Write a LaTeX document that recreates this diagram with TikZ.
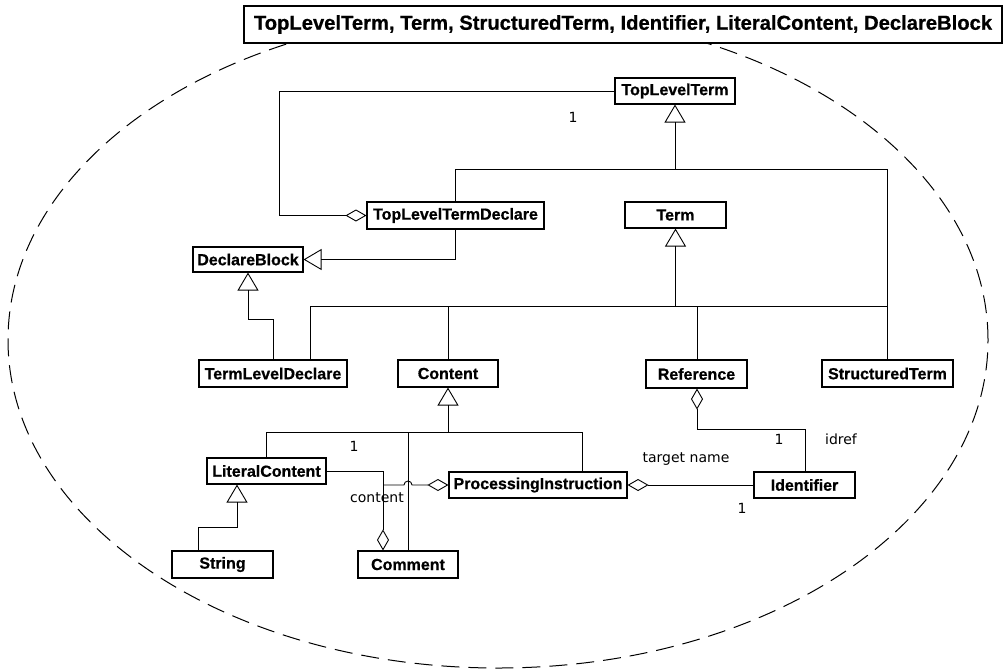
\documentclass[tikz,border=0pt]{standalone}
\usepackage{fontspec}
\setmainfont{Liberation Sans}
\newfontfamily\heavyfont{Liberation Sans}[BoldFeatures={FakeBold=0.7}]
\newfontfamily\labfont{DejaVu Sans}
\usetikzlibrary{arrows.meta}
\begin{document}
\begin{tikzpicture}[x=1pt,y=-1pt,
  cls/.style={draw, line width=1.1pt, fill=white, inner sep=0pt, minimum height=26pt,
              font=\heavyfont\fontsize{16}{16}\selectfont\bfseries},
  ln/.style={line width=0.9pt},
  gen/.style={ln, -{Triangle[open, length=18pt, width=21pt, line width=0.9pt]}},
  agg/.style={ln, -{Diamond[open, length=21pt, width=12pt, line width=0.9pt]}},
  lab/.style={font=\labfont\fontsize{14}{14}\selectfont, inner sep=0pt, anchor=base},
]
\useasboundingbox (0,0) rectangle (1003,670);
% package boundary
\draw[line width=1pt, dash pattern=on 18pt off 9pt] (498,340) ellipse [x radius=490pt, y radius=328pt];
\node[draw, line width=1.1pt, fill=white, minimum width=758pt, minimum height=37pt, inner sep=0pt,
      font=\heavyfont\fontsize{20.2}{21}\selectfont\bfseries] (title) at (623,24.5)
      {TopLevelTerm, Term, StructuredTerm, Identifier, LiteralContent, DeclareBlock};

% classes
\node[cls, minimum width=120pt] (tlt) at (675,91) {TopLevelTerm};
\node[cls, minimum width=177pt, minimum height=27pt] (tltd) at (455.5,215.5) {TopLevelTermDeclare};
\node[cls, minimum width=101pt] (term) at (675.5,215) {Term};
\node[cls, minimum width=110pt, minimum height=25pt] (db) at (248,259.5) {DeclareBlock};
\node[cls, minimum width=148pt, minimum height=27pt] (tld) at (273,373.5) {TermLevelDeclare};
\node[cls, minimum width=100pt, minimum height=27pt] (content) at (448,373.5) {Content};
\node[cls, minimum width=101pt, minimum height=28pt] (ref) at (696.5,374) {Reference};
\node[cls, minimum width=131pt, minimum height=27pt] (st) at (887.5,373.5) {StructuredTerm};
\node[cls, minimum width=119pt] (lc) at (266.5,471) {LiteralContent};
\node[cls, minimum width=178pt] (pi) at (538,485) {ProcessingInstruction};
\node[cls, minimum width=101pt] (id) at (804.5,485) {Identifier};
\node[cls, minimum width=101pt, minimum height=27pt] (string) at (222.5,564.5) {String};
\node[cls, minimum width=100pt, minimum height=27pt] (comment) at (408,564.5) {Comment};

% helper coordinates
\coordinate (j1) at (675,169);
\coordinate (j2) at (675.5,306);
\coordinate (j3) at (448,432);
\coordinate (b1) at (248,319);
\coordinate (b2) at (279,215.5);
\coordinate (b3) at (237,527);
\coordinate (b4) at (697,429);
\coordinate (tldn) at ([xshift=37pt]tld.north);
\coordinate (pin) at ([xshift=44pt]pi.north);
\coordinate (lcb) at ([xshift=-29.5pt]lc.south);
\coordinate (sn) at ([xshift=-24.5pt]string.north);
\coordinate (cn) at ([xshift=-25pt]comment.north);
\coordinate (idn) at ([xshift=0.5pt]id.north);
\coordinate (refs) at ([xshift=0.5pt]ref.south);
\coordinate (refn) at ([xshift=0.5pt]ref.north);

% generalizations
\draw[gen] (tltd.north) |- (j1) -- (tlt.south);
\draw[ln] (st.north) |- (j1);
\draw[gen] (j2) -- (term.south);
\draw[ln] (tldn) |- (st.north |- j2);
\draw[ln] (content.north) -- (content.north |- j2);
\draw[ln] (refn) -- (refn |- j2);
\draw[gen] (tldn -| tld.north) |- (b1) -- (db.south);
\draw[gen] (tltd.south) |- (db.east);
\draw[gen] (j3) -- (content.south);
\draw[ln] (lc.north) |- (pin |- j3) -- (pin);
\draw[ln] (comment.north) -- (comment.north |- j3);
\draw[gen] (sn) |- (b3) -- (lcb);

% aggregations
\draw[agg] (tlt.west) -| (b2) -- (tltd.west);
\draw[agg] (lc.east) -| (cn);
\draw[agg] (cn |- pi.west) -- ++(21,0) arc[start angle=180, end angle=0, radius=4pt] -- (pi.west);
\draw[agg] (id.west) -- (pi.east);
\draw[agg] (idn) |- (b4) -- (refs);

% labels
\node[lab] (l1) at (573,122) {1};
\node[lab] (l2) at (354,451) {1};
\node[lab] (l3) at (377,502) {content};
\node[lab] (l4) at (686,462) {target name};
\node[lab] (l5) at (779,444) {1};
\node[lab] (l6) at (841,444) {idref};
\node[lab] (l7) at (742,513) {1};
\end{tikzpicture}
\end{document}
